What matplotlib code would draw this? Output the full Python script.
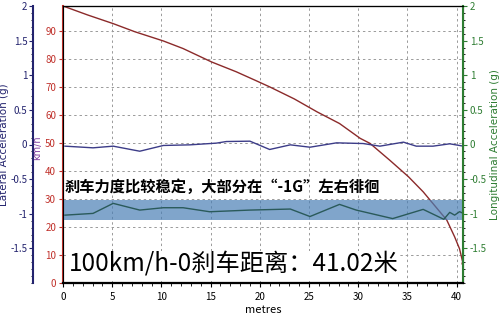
# coding=utf-8

import numpy as np
import matplotlib
matplotlib.use('Agg')
import matplotlib.pyplot as plt
from matplotlib.ticker import MultipleLocator

plt.rcParams['font.family'] = ['Noto Sans CJK SC', 'DejaVu Sans']

# speed (km/h) against distance (metres)
dist_speed = [0, 2.5, 5.1, 7.3, 10.2, 12.2, 15.1, 17.6, 19.5, 21.0, 23.5, 25.8, 28.1,
              30.2, 31.2, 33.2, 35.1, 36.6, 38.0, 39.0, 39.8, 40.3, 40.65]
speed = [99, 95.8, 92.7, 89.8, 86.5, 83.8, 79.0, 75.5, 72.5, 70.1, 65.8, 61.2, 57.0,
         51.7, 49.9, 43.9, 38.0, 32.6, 26.7, 22.5, 16.5, 12.2, 7.0]

# lateral acceleration (g)
dist_lat = [0.2, 3.05, 5.1, 7.8, 10.2, 12.9, 15.6, 16.6, 19.0, 21.0, 23.1, 25.1, 27.8,
            30.5, 32.2, 34.6, 35.9, 37.6, 39.3, 40.7]
lat_acc = [-0.024, -0.048, -0.024, -0.097, -0.014, -0.005, 0.02, 0.043, 0.048, -0.072,
           -0.005, -0.039, 0.024, 0.014, -0.024, 0.034, -0.024, -0.024, 0.01, -0.024]

# longitudinal acceleration (g)
dist_long = [0.2, 3.05, 5.1, 7.8, 10.2, 12.2, 14.9, 19.0, 23.1, 25.1, 28.1, 29.8, 33.5,
             36.6, 38.7, 39.3, 39.8, 40.3, 40.7]
long_acc = [-1.02, -0.995, -0.85, -0.947, -0.913, -0.913, -0.971, -0.947, -0.932, -1.04,
            -0.865, -0.947, -1.07, -0.937, -1.08, -0.98, -1.02, -0.97, -0.995]

band = (-1.09, -0.80)
acc_ticks = [-1.5, -1, -0.5, 0, 0.5, 1, 1.5, 2]
acc_labels = ['-1.5', '-1', '-0.5', '0', '0.5', '1', '1.5', '2']

title1 = '刹车力度比较稳定，大部分在“-1G”左右徘徊'
title2 = '100km/h-0刹车距离：41.02米'

navy = '#23236e'
red = '#c0302a'
green = '#2e7d32'

fig = plt.figure(figsize=(5, 3.19), dpi=100)
ax = fig.add_axes([63 / 500, 36 / 319, 400 / 500, 277 / 319])

# speed axis (red, left)
ax.plot(dist_speed, speed, color='#8b2a2a', linewidth=1)
ax.plot(dist_speed[-1], speed[-1], 'o', color='#8b2a2a', markersize=2)
ax.set_xlim(0, 40.65)
ax.set_ylim(0, 99)
ax.xaxis.set_major_locator(MultipleLocator(5))
ax.xaxis.set_minor_locator(MultipleLocator(1))
ax.yaxis.set_major_locator(MultipleLocator(10))
ax.tick_params(axis='y', colors=red, labelsize=7, length=3, pad=2)
ax.tick_params(axis='x', labelsize=7, length=3)
ax.tick_params(axis='x', which='minor', length=2)
ax.grid(True, linestyle=(0, (2.5, 3)), color='#9a9a9a', linewidth=0.7)
ax.set_axisbelow(True)
ax.spines['left'].set_color(red)
ax.spines['left'].set_linewidth(1.5)
ax.set_xlabel('metres', fontsize=8, labelpad=2)
ax.text(-0.065, 0.49, 'km/h', transform=ax.transAxes, rotation=90, color='#8040a0',
        fontsize=7, ha='center', va='center', family='DejaVu Sans')

# lateral axis (navy, outer left)
ax_lat = ax.twinx()
ax_lat.spines['left'].set_position(('outward', 21.6))
ax_lat.spines['left'].set_visible(True)
ax_lat.spines['left'].set_color(navy)
ax_lat.spines['left'].set_linewidth(1.5)
ax_lat.spines['right'].set_visible(False)
ax_lat.yaxis.set_label_position('left')
ax_lat.yaxis.set_ticks_position('left')
ax_lat.set_ylim(-2, 2)
ax_lat.set_yticks(acc_ticks)
ax_lat.set_yticklabels(acc_labels)
ax_lat.yaxis.set_minor_locator(MultipleLocator(0.1))
ax_lat.tick_params(axis='y', colors=navy, labelsize=7, length=3, pad=1)
ax_lat.tick_params(axis='y', which='minor', length=1.5)
ax_lat.set_ylabel('Lateral Acceleration (g)', color=navy, fontsize=7.5, labelpad=1,
                  family='DejaVu Sans')
ax_lat.plot(dist_lat, lat_acc, color='#3c3c88', linewidth=1)

# longitudinal axis (green, right)
ax_long = ax.twinx()
ax_long.set_ylim(-2, 2)
ax_long.spines['right'].set_color(green)
ax_long.spines['right'].set_linewidth(1.5)
ax_long.set_yticks(acc_ticks)
ax_long.set_yticklabels(acc_labels)
ax_long.yaxis.set_minor_locator(MultipleLocator(0.1))
ax_long.tick_params(axis='y', colors=green, labelsize=7, length=3, pad=2)
ax_long.tick_params(axis='y', which='minor', length=1.5)
ax_long.set_ylabel('Longitudinal Acceleration (g)', color=green, fontsize=7.5, labelpad=2,
                   family='DejaVu Sans')
ax_long.axhspan(band[0], band[1], color='#4a7fb5', alpha=0.7, linewidth=0)
ax_long.plot(dist_long, long_acc, color='#2a5a5a', linewidth=1)

for a in (ax, ax_lat, ax_long):
    a.spines['top'].set_color('black')
    a.spines['bottom'].set_color('black')
    a.spines['bottom'].set_linewidth(1.5)

ax_long.text(0.005, 0.345, title1, transform=ax.transAxes, fontsize=11, fontweight='bold',
             color='black', ha='left', va='center', zorder=5)
ax_long.text(0.015, 0.065, title2, transform=ax.transAxes, fontsize=17.5,
             color='black', ha='left', va='center', zorder=5,
             bbox=dict(facecolor='white', edgecolor='none', pad=1))

fig.savefig('out.png', dpi=100)
